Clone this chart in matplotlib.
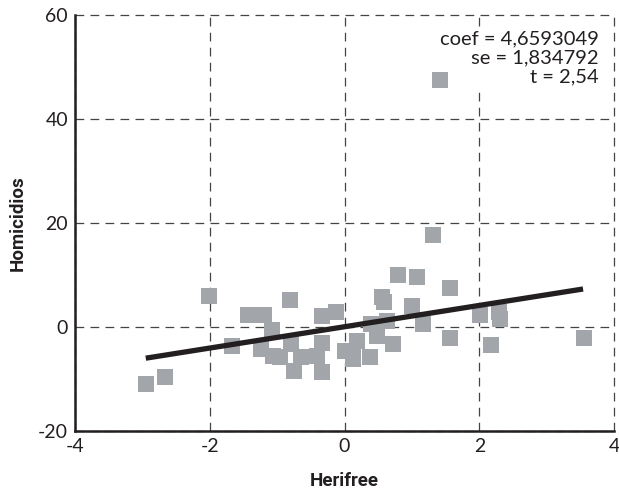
import matplotlib
matplotlib.use("Agg")
import matplotlib.pyplot as plt
import numpy as np

# values
herifree = [-2.95, -2.67, -2.01, -1.67, -1.44, -1.19, -0.81, -1.07, -1.24, -1.06,
            -0.96, -0.80, -0.75, -0.64, -0.41, -0.34, -0.12, -0.34, -0.34, 0.00,
            0.18, 0.13, 0.13, 0.38, 0.40, 0.63, 0.48, 0.72, 0.55, 0.59,
            0.80, 1.07, 1.00, 1.17, 1.32, 1.41, 1.56, 1.56, 2.01, 2.29,
            2.31, 2.18, 3.55]
homicidios = [-11.0, -9.6, 6.0, -3.7, 2.3, 2.3, 5.25, -0.5, -4.2, -5.5,
              -5.8, -3.3, -8.4, -5.7, -5.5, 2.2, 2.8, -3.1, -8.7, -4.6,
              -2.6, -6.2, -4.8, -5.8, 0.6, 1.2, -1.7, -3.3, 5.7, 4.75,
              10.0, 9.6, 4.1, 0.6, 17.6, 47.5, 7.5, -2.1, 2.4, 2.8,
              1.5, -3.4, -2.1]

fit_x = [-2.95, 3.54]
fit_intercept = 0.05
fit_slope = 2.05

xticks = [-4, -2, 0, 2, 4]
yticks = [-20, 0, 20, 40, 60]
stats_text = "coef = 4,6593049\nse = 1,834792\nt = 2,54"

plt.rcParams['font.family'] = ['Lato', 'DejaVu Sans']

fig = plt.figure(figsize=(6.19, 4.92), dpi=100)
ax = fig.add_axes([0.1212, 0.124, 0.8708, 0.8455])

ax.scatter(herifree, homicidios, marker="s", s=125, color="#a2a5a9", linewidths=0, zorder=3)
fx = np.array(fit_x)
ax.plot(fx, fit_intercept + fit_slope * fx, color="#231f20", linewidth=3.8,
        solid_capstyle="butt", zorder=4)

ax.set_xlim(-4, 4)
ax.set_ylim(-20, 60)
ax.set_xticks(xticks)
ax.set_yticks(yticks)
ax.set_xticklabels([str(v) for v in xticks])
ax.set_yticklabels([str(v) for v in yticks])
ax.tick_params(length=0, labelsize=14, colors="#231f20", pad=5)

ax.grid(True, color="#444444", linestyle=(0, (7, 5)), linewidth=0.9, zorder=0)
for line in ax.get_xgridlines() + ax.get_ygridlines():
    line.set_clip_on(False)

for side in ["top", "right"]:
    ax.spines[side].set_visible(False)
for side in ["left", "bottom"]:
    ax.spines[side].set_linewidth(1.8)
    ax.spines[side].set_color("#231f20")
    ax.spines[side].set_zorder(5)

ax.set_xlabel("Herifree", fontsize=13.5, fontweight="bold", color="#231f20", labelpad=12,
              family=["Roboto", "DejaVu Sans"], fontstretch="condensed")
ax.set_ylabel("Homicidios", fontsize=13.5, fontweight="bold", color="#231f20", labelpad=8,
              family=["Roboto", "DejaVu Sans"], fontstretch="condensed")

ax.text(0.972, 0.962, stats_text, transform=ax.transAxes, ha="right", va="top",
        fontsize=14.5, color="#231f20", linespacing=1.12, multialignment="right",
        zorder=2, bbox=dict(facecolor="white", edgecolor="none", pad=1))

fig.savefig("out.png", dpi=100)
